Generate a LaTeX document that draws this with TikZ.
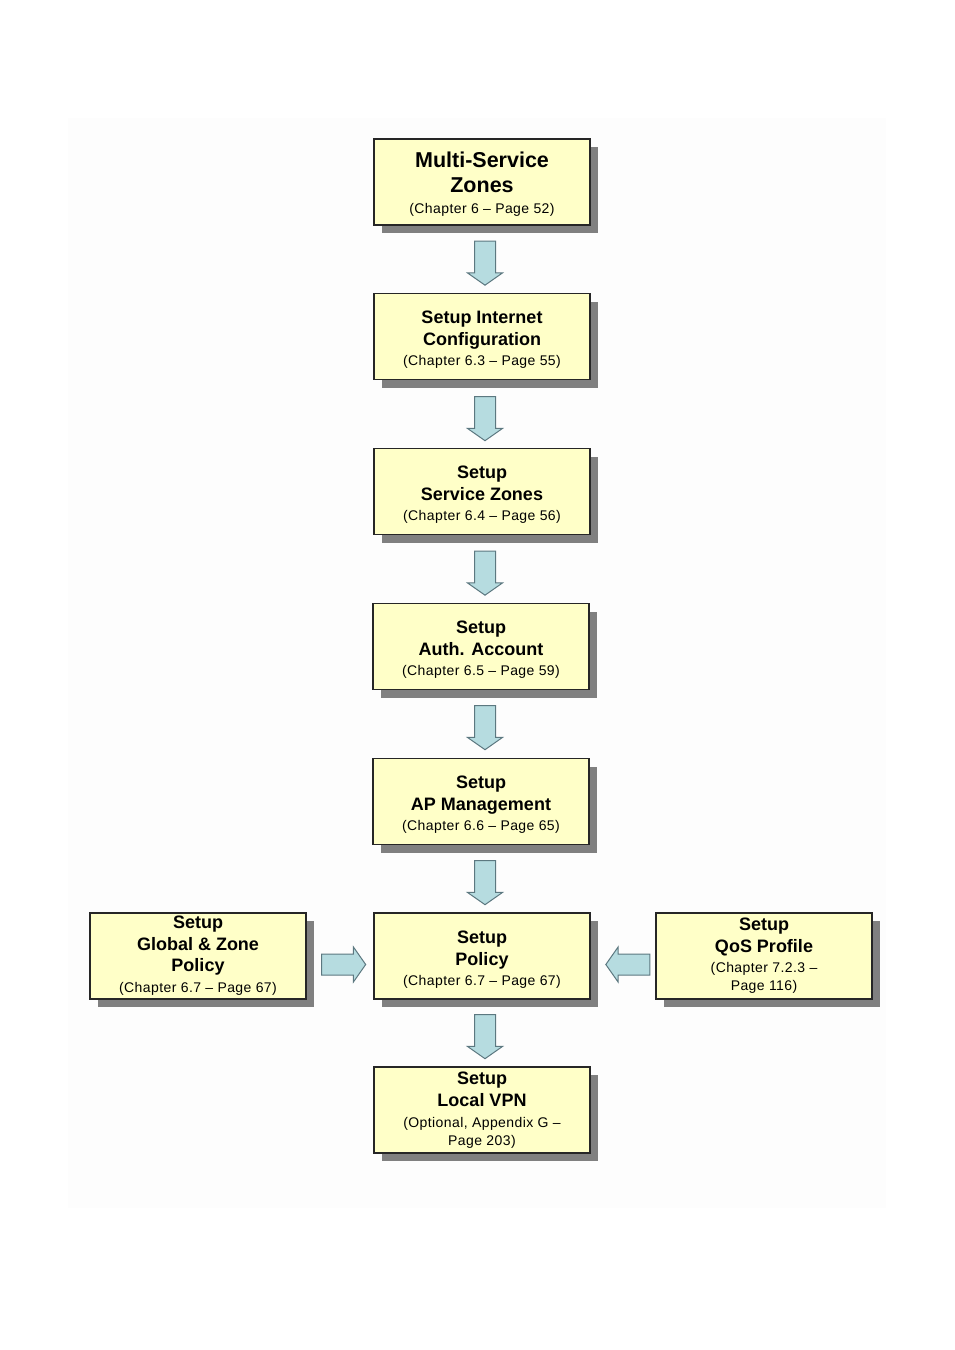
\documentclass[tikz,border=0pt]{standalone}
\usepackage{fontspec}
\setmainfont{Liberation Sans}
\usetikzlibrary{shapes.arrows,shadows}

\definecolor{boxfill}{HTML}{FFFFC8}
\definecolor{shadowgray}{HTML}{808080}
\definecolor{arrowfill}{HTML}{B6DCE0}
\definecolor{arrowline}{HTML}{5C7880}
\definecolor{pagebg}{HTML}{FDFDFD}

\newcommand{\ttl}{\fontsize{18}{22}\selectfont\bfseries}
\newcommand{\bigttl}{\fontsize{21.5}{25}\selectfont\bfseries}
\newcommand{\sub}{\fontsize{14}{18}\selectfont\mdseries\addfontfeature{LetterSpace=3}}
\newcommand{\topstrut}{\rule{0pt}{19pt}}

\tikzset{
  stepbox/.style={draw=black!85, line width=1.2pt, fill=boxfill,
    minimum width=216pt, minimum height=86pt, inner sep=2pt, align=center,
    font=\ttl,
    drop shadow={shadow xshift=8pt, shadow yshift=-8pt, fill=shadowgray, opacity=1}},
  blockarrow/.style={single arrow, draw=arrowline, line width=1pt, fill=arrowfill,
    minimum width=34pt, minimum height=44pt, inner sep=10pt,
    single arrow head extend=7pt, single arrow tip angle=110}
}

\begin{document}
\begin{tikzpicture}[x=1pt, y=-1pt]
  % page and faint background
  \useasboundingbox (0,0) rectangle (954,1350);
  \fill[pagebg] (68,118) rectangle (886,1208);

  % Main column of steps
  \node[stepbox] (zones) at (482,182)
    {\bigttl\topstrut Multi-Service\\[3pt]\bigttl Zones\\[-1pt]\sub (Chapter 6 -- Page 52)};
  \node[stepbox] (inet) at (482,336.5)
    {\topstrut Setup Internet\\Configuration\\[-2pt]\sub (Chapter 6.3 -- Page 55)};
  \node[stepbox] (svczones) at (482,491.5)
    {\topstrut Setup\\Service Zones\\[-2pt]\sub (Chapter 6.4 -- Page 56)};
  \node[stepbox] (authacct) at (481,646.5)
    {\topstrut Setup\\Auth. Account\\[-2pt]\sub (Chapter 6.5 -- Page 59)};
  \node[stepbox] (apmgmt) at (481,801.5)
    {\topstrut Setup\\AP Management\\[-2pt]\sub (Chapter 6.6 -- Page 65)};
  \node[stepbox] (policy) at (482,956)
    {\topstrut Setup\\Policy\\[-2pt]\sub (Chapter 6.7 -- Page 67)};
  \node[stepbox] (vpn) at (482,1110)
    {Setup\\Local VPN\\[-1pt]\sub (Optional, Appendix G --\\[-4pt]\sub Page 203)};

  % Side steps feeding the policy
  \node[stepbox] (glbpolicy) at (198,956)
    {Setup\\[-0.5pt]Global \& Zone\\[-0.5pt]Policy\\[-1pt]\sub (Chapter 6.7 -- Page 67)};
  \node[stepbox] (qos) at (764,956)
    {Setup\\QoS Profile\\[-2pt]\sub (Chapter 7.2.3 --\\[-4pt]\sub Page 116)};

  % Down arrows between the steps
  \node[blockarrow, shape border rotate=270] (a1) at (485,259.5) {};
  \node[blockarrow, shape border rotate=270] (a2) at (485,415) {};
  \node[blockarrow, shape border rotate=270] (a3) at (485,569.5) {};
  \node[blockarrow, shape border rotate=270] (a4) at (485,724) {};
  \node[blockarrow, shape border rotate=270] (a5) at (485,879) {};
  \node[blockarrow, shape border rotate=270] (a6) at (485,1033) {};

  % Side arrows into the policy step
  \node[blockarrow] (aright) at (340,964.5) {};
  \node[blockarrow, shape border rotate=180] (aleft) at (631.5,964.5) {};
\end{tikzpicture}
\end{document}
